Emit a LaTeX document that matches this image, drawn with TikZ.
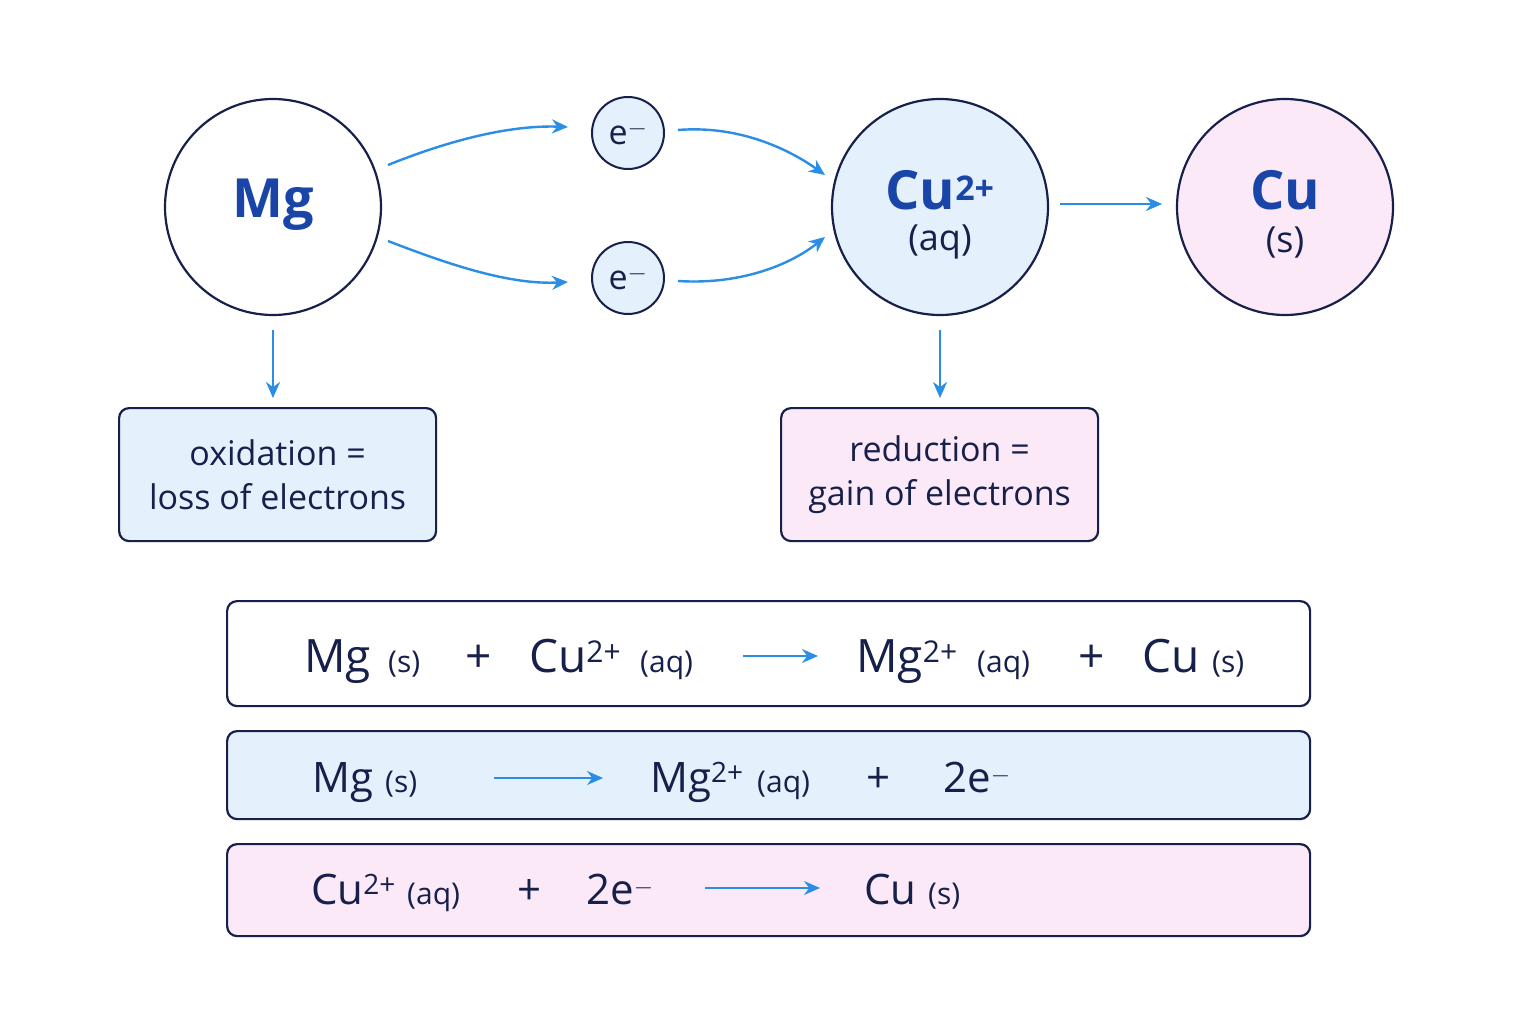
\documentclass[tikz,border=0pt]{standalone}
\usepackage{amsmath}
\usepackage{fontspec}
\setmainfont{Open Sans}
\usetikzlibrary{arrows.meta}
\definecolor{navy}{HTML}{16204A}
\definecolor{tblue}{HTML}{1A45A8}
\definecolor{abl}{HTML}{2A8DE6}
\definecolor{lblue}{HTML}{E4F1FD}
\definecolor{lpink}{HTML}{FBE9F8}
\begin{document}
\begin{tikzpicture}[x=1pt,y=-1pt,
 circ/.style={circle,draw=navy,line width=2.2pt,minimum size=216pt,inner sep=0pt,align=center},
 ecirc/.style={circle,draw=navy,line width=2pt,fill=lblue,minimum size=72pt,inner sep=0pt,font=\fontsize{34}{34}\selectfont,text=navy},
 arr/.style={draw=abl,line width=2.4pt,-{Stealth[length=16pt,width=14pt]}},
 box/.style={draw=navy,line width=2.2pt,rounded corners=10pt,anchor=north west,inner sep=0pt},
 lab/.style={font=\fontsize{34}{44}\selectfont,text=navy,align=center},
 big/.style={font=\fontsize{46}{46}\selectfont,text=navy,inner sep=0pt,anchor=base west},
 sm/.style={font=\fontsize{30}{30}\selectfont,text=navy,inner sep=0pt,anchor=base west},
 pt/.style={coordinate}]
\useasboundingbox[fill=white] (0,0) rectangle (1536,1024);
% circles
\node[circ,fill=white] (mg) at (273,207) {};
\node[font=\fontsize{54}{54}\selectfont\bfseries,text=tblue] at (273,205) {Mg};
\node[ecirc] (e1) at (628,133) {e$^{-}$};
\node[ecirc] (e2) at (628,278) {e$^{-}$};
\node[circ,fill=lblue] (cu2) at (940,207) {};
\node[font=\fontsize{54}{54}\selectfont\bfseries,text=tblue] at (940,190) {Cu$^{\text{\fontsize{34}{34}\selectfont 2+}}$};
\node[lab,font=\fontsize{36}{36}\selectfont] at (940,242) {(aq)};
\node[circ,fill=lpink] (cu) at (1285,207) {};
\node[font=\fontsize{54}{54}\selectfont\bfseries,text=tblue] at (1285,190) {Cu};
\node[lab,font=\fontsize{36}{36}\selectfont] at (1285,242) {(s)};
% arrows
\draw[arr] (388,165) .. controls (450,140) and (510,125) .. (568,127);
\draw[arr] (388,241) .. controls (450,265) and (510,285) .. (568,282);
\draw[arr] (678,130) .. controls (740,125) and (790,150) .. (825,175);
\draw[arr] (678,281) .. controls (740,285) and (790,265) .. (825,237);
\draw[arr] (1060,204) -- (1162,204);
\draw[arr] (273,330) -- (273,398);
\draw[arr] (940,330) -- (940,398);
% label boxes
\node[box,fill=lblue,minimum width=317pt,minimum height=133pt] (ox) at (118,407) {};
\node[lab] at (ox.center) {oxidation =\\loss of electrons};
\node[box,fill=lpink,minimum width=317pt,minimum height=133pt] (red) at (780,407) {};
\node[lab] at (red.center) {reduction =\\gain of electrons};
% equation boxes
\node[box,fill=white,minimum width=1083pt,minimum height=105pt] (b1) at (226,600) {};
\node[box,fill=lblue,minimum width=1083pt,minimum height=88pt] (b2) at (226,730) {};
\node[box,fill=lpink,minimum width=1083pt,minimum height=92pt] (b3) at (226,843) {};
% eq 1
\node[big] at (304,672) {Mg};
\node[sm] at (388,672) {(s)};
\node[big] at (465,672) {+};
\node[big] at (529,672) {Cu$^{\text{\fontsize{30}{30}\selectfont 2+}}$};
\node[sm] at (640,672) {(aq)};
\draw[arr,line width=2pt] (743,656) -- (818,656);
\node[big] at (856,672) {Mg$^{\text{\fontsize{30}{30}\selectfont 2+}}$};
\node[sm] at (977,672) {(aq)};
\node[big] at (1078,672) {+};
\node[big] at (1142,672) {Cu};
\node[sm] at (1212,672) {(s)};
% eq 2
\node[big,font=\fontsize{42}{42}\selectfont] at (312,792) {Mg};
\node[sm] at (385,792) {(s)};
\draw[arr,line width=2pt] (494,778) -- (603,778);
\node[big,font=\fontsize{42}{42}\selectfont] at (650,792) {Mg$^{\text{\fontsize{28}{28}\selectfont 2+}}$};
\node[sm] at (757,792) {(aq)};
\node[big,font=\fontsize{42}{42}\selectfont] at (866,792) {+};
\node[big,font=\fontsize{42}{42}\selectfont] at (943,792) {2e$^{-}$};
% eq 3
\node[big,font=\fontsize{42}{42}\selectfont] at (311,904) {Cu$^{\text{\fontsize{28}{28}\selectfont 2+}}$};
\node[sm] at (407,904) {(aq)};
\node[big,font=\fontsize{42}{42}\selectfont] at (517,904) {+};
\node[big,font=\fontsize{42}{42}\selectfont] at (586,904) {2e$^{-}$};
\draw[arr,line width=2pt] (705,888) -- (820,888);
\node[big,font=\fontsize{42}{42}\selectfont] at (864,904) {Cu};
\node[sm] at (928,904) {(s)};
\end{tikzpicture}
\end{document}
